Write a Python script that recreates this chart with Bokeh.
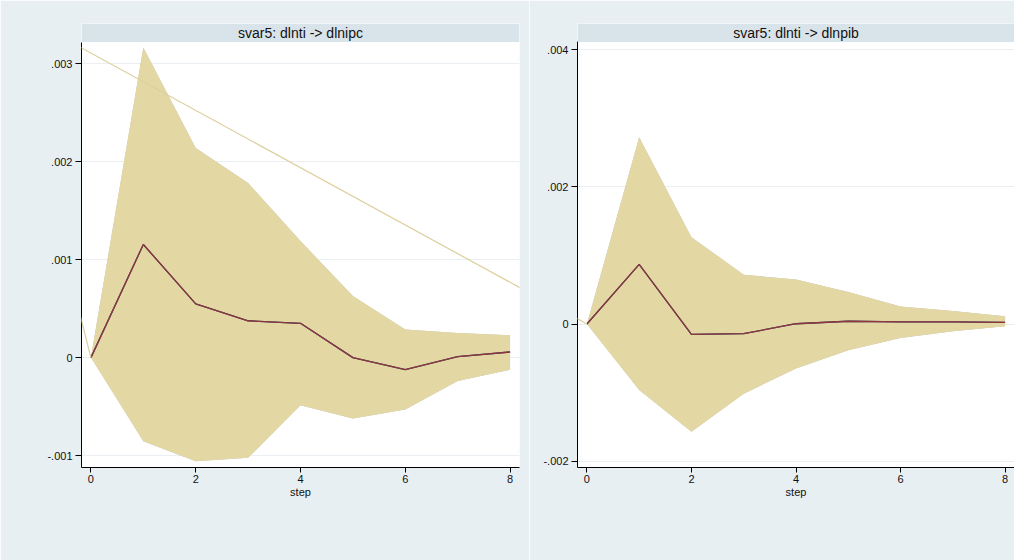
from bokeh.plotting import figure
from bokeh.models import (ColumnDataSource, FixedTicker, Legend, LegendItem,
                          Range1d, Arrow, BoxAnnotation, Label)
from bokeh.layouts import row
from bokeh.embed import file_html
from bokeh.resources import INLINE

# ---------------- data ----------------
steps = [0, 1, 2, 3, 4, 5, 6, 7, 8]
x_ticks = [0, 2, 4, 6, 8]

# panel 1: svar5: dlnti -> dlnipc
ipc_sirf = [0.0, 0.001155, 0.000549, 0.000376, 0.000350, 0.0, -0.000123, 0.000010, 0.000057]
ipc_upper = [0.0, 0.003166, 0.002140, 0.001783, 0.001190, 0.000628, 0.000288, 0.000250, 0.000227]
ipc_lower = [0.0, -0.000853, -0.001057, -0.001023, -0.000486, -0.000623, -0.000531, -0.000239, -0.000123]
ipc_oirf = ipc_sirf
ipc_oirf_upper = ipc_upper
ipc_oirf_lower = ipc_lower
ipc_yticks = [-0.001, 0.0, 0.001, 0.002, 0.003]
ipc_ylabels = ["-.001", "0", ".001", ".002", ".003"]

# panel 2: svar5: dlnti -> dlnpib
pib_sirf = [0.0, 0.000869, -0.000150, -0.000141, 0.000004, 0.000040, 0.000030, 0.000030, 0.000025]
pib_upper = [0.0, 0.002722, 0.001266, 0.000718, 0.000650, 0.000466, 0.000257, 0.000190, 0.000112]
pib_lower = [0.0, -0.000961, -0.001572, -0.001015, -0.000650, -0.000383, -0.000204, -0.000107, -0.000034]
pib_oirf = pib_sirf
pib_oirf_upper = pib_upper
pib_oirf_lower = pib_lower
pib_yticks = [-0.002, 0.0, 0.002, 0.004]
pib_ylabels = ["-.002", "0", ".002", ".004"]

titles = ["svar5: dlnti -> dlnipc", "svar5: dlnti -> dlnpib"]
x_label = "step"
legend_labels = ["95% CI for oirf", "95% CI for sirf", "oirf", "sirf"]

# ---------------- style ----------------
BG = "#e8eff2"
BAND = "#d9e4ea"
TAN = "#e3d8a4"
GREY = "#bfbfbf"
NAVY = "#1a476f"
MAROON = "#90353b"
GRID = "#e9eff2"
FONT = "Liberation Sans"


def panel(title, sirf, lo, hi, oirf, olo, ohi, yticks, ylabels,
          ylo, yhi, yband, fwidth, mb_left, mb_right):
    src = ColumnDataSource(dict(step=steps, sirf=sirf, lo=lo, hi=hi,
                                oirf=oirf, olo=olo, ohi=ohi))
    # fixed frame size so the plot area cannot collapse
    p = figure(frame_width=fwidth, frame_height=444,
               x_range=Range1d(-0.18, 8.18), y_range=Range1d(ylo, yband),
               output_backend="svg", toolbar_location=None,
               min_border_left=mb_left, min_border_right=mb_right,
               min_border_top=23, min_border_bottom=70,
               background_fill_color="white", border_fill_color=BG,
               outline_line_color=None)

    # title band inside the top of the frame
    p.add_layout(BoxAnnotation(bottom=yhi, fill_color=BAND, fill_alpha=1,
                               line_color=None))
    p.add_layout(Label(x=4, y=(yhi + yband) / 2, text=title,
                       text_align="center", text_baseline="middle",
                       text_font=FONT, text_font_size="14px",
                       text_color="#111111"))

    ci_o = p.varea(x="step", y1="olo", y2="ohi", source=src, fill_color=GREY)
    ci_s = p.varea(x="step", y1="lo", y2="hi", source=src, fill_color=TAN)
    l_o = p.line(x="step", y="oirf", source=src, line_color=NAVY, line_width=1.3)
    l_s = p.line(x="step", y="sirf", source=src, line_color=MAROON, line_width=1.3)

    p.xaxis.ticker = FixedTicker(ticks=x_ticks)
    p.xaxis.axis_label = x_label
    p.yaxis.ticker = FixedTicker(ticks=yticks)
    p.yaxis.major_label_overrides = {t: l for t, l in zip(yticks, ylabels)}
    p.yaxis.bounds = (ylo, yhi)
    for ax in (p.xaxis, p.yaxis):
        ax.axis_line_color = "black"
        ax.major_tick_line_color = "black"
        ax.major_tick_in = 0
        ax.minor_tick_line_color = None
        ax.major_label_text_font = FONT
        ax.major_label_text_font_size = "11px"
        ax.major_label_text_color = "#111111"
        ax.axis_label_text_font = FONT
        ax.axis_label_text_font_size = "11px"
        ax.axis_label_text_font_style = "normal"
        ax.axis_label_text_color = "#111111"
    p.xaxis.major_tick_out = 5
    p.xaxis.major_label_standoff = 2
    p.xaxis.axis_label_standoff = 0
    p.yaxis.major_tick_out = 6
    p.yaxis.major_label_standoff = 3
    p.xgrid.grid_line_color = None
    p.ygrid.grid_line_color = GRID

    items = [LegendItem(label=legend_labels[0], renderers=[ci_o]),
             LegendItem(label=legend_labels[2], renderers=[l_o]),
             LegendItem(label=legend_labels[1], renderers=[ci_s]),
             LegendItem(label=legend_labels[3], renderers=[l_s])]
    leg = Legend(items=items, ncols=2, location="center",
                 border_line_color="black",
                 background_fill_color="white", background_fill_alpha=1,
                 label_text_font=FONT, label_text_font_size="11px",
                 label_text_color="#111111",
                 glyph_width=54, glyph_height=11, label_standoff=16,
                 label_width=110, label_height=11, spacing=8,
                 padding=5, margin=3)
    p.add_layout(leg, "below")
    return p


p1 = panel(titles[0], ipc_sirf, ipc_lower, ipc_upper, ipc_oirf,
           ipc_oirf_lower, ipc_oirf_upper, ipc_yticks, ipc_ylabels,
           -0.001122, 0.003222, 0.003411, 438, 81, 10)
p2 = panel(titles[1], pib_sirf, pib_lower, pib_upper, pib_oirf,
           pib_oirf_lower, pib_oirf_upper, pib_yticks, pib_ylabels,
           -0.002092, 0.004112, 0.004381, 437, 48, 0)

# thin overlay lines seen in the reference (from a common vertex to each origin)
OV = "#dccf9e"
p1.add_layout(Arrow(start=None, end=None, x_start=-1.715, y_start=0.003611,
                    x_end=0, y_end=0, line_color=OV, line_width=1.2))
p1.add_layout(Arrow(start=None, end=None, x_start=-1.715, y_start=0.003611,
                    x_end=9.455, y_end=0.000343, line_color=OV, line_width=1.2))
p2.add_layout(Arrow(start=None, end=None, x_start=-11.134, y_start=0.004667,
                    x_end=0, y_end=0, line_color=OV, line_width=1.2))

html = file_html(row(p1, p2), INLINE)
open("out.html", "w").write(html)
